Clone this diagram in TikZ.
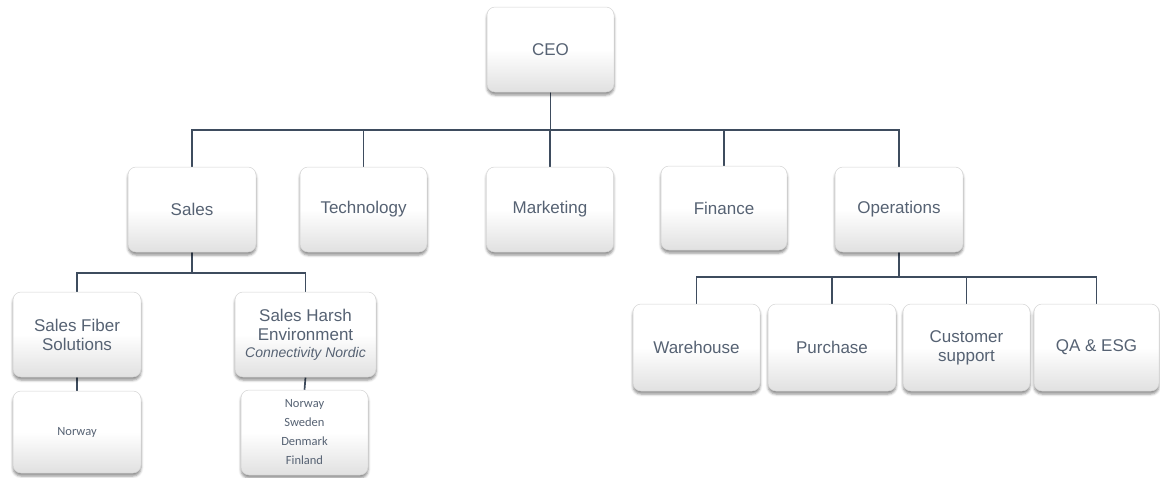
\documentclass[tikz,border=0pt]{standalone}
\usepackage{fontspec}
\setmainfont{Liberation Sans}
\newfontfamily\calfont{Carlito}
\usetikzlibrary{shadows.blur,backgrounds}
\definecolor{txt}{HTML}{566273}
\definecolor{ln}{HTML}{3E4C5E}
\definecolor{bd}{HTML}{D4D4D4}
\tikzset{
 box/.style={draw=bd, line width=0.5pt, rounded corners=8pt, top color=white, bottom color=black!12, middle color=white,
   text=txt, align=center, font=\fontsize{17}{19}\selectfont, inner sep=2pt,
   minimum width=127pt, minimum height=85pt,
   blur shadow={shadow xshift=0pt, shadow yshift=-3pt, shadow blur radius=2.5pt, shadow opacity=45}},
 small/.style={font=\calfont\fontsize{12.5}{19}\selectfont},
 conn/.style={draw=ln, line width=1.7pt}
}
\begin{document}
\begin{tikzpicture}[x=1pt,y=-1pt]
\useasboundingbox (0,0) rectangle (1160,477);
% top level
\node[box] (ceo) at (550.5,49.5) {CEO};
% second level
\node[box, minimum width=128pt] (sales) at (192,209.5) {Sales};
\node[box] (tech) at (363.5,209.5) {Technology};
\node[box] (mkt) at (550,209.5) {Marketing};
\node[box, minimum width=126pt, minimum height=84pt] (fin) at (724,208) {Finance};
\node[box, minimum width=128pt] (ops) at (899,209.5) {Operations};
% sales children
\node[box, minimum width=128pt] (sfs) at (77,334.5) {Sales Fiber\\Solutions};
\node[box, minimum width=141pt] (she) at (305.5,334.5) {Sales Harsh\\Environment\\[-2pt]{\fontsize{14}{16}\selectfont\itshape Connectivity Nordic}};
\node[box, small, minimum width=128pt, minimum height=82pt] (nor) at (77,432) {\raisebox{-5pt}{Norway}};
\node[box, small] (nordic) at (304.5,432.5) {Norway\\Sweden\\Denmark\\Finland};
% operations children
\node[box, minimum height=87pt] (wh) at (696.5,347.5) {Warehouse};
\node[box, minimum width=128pt, minimum height=87pt] (pur) at (832,347.5) {Purchase};
\node[box, minimum height=87pt] (cs) at (966.5,347.5) {Customer\\support};
\node[box, minimum width=125pt, minimum height=87pt] (qa) at (1096.5,347.5) {QA \& ESG};
% connectors
\begin{scope}[on background layer]
\draw[conn] (ceo.south) -- ++(0,38) coordinate (bus1);
\draw[conn] (sales.north) |- (bus1);
\draw[conn] (tech.north) |- (bus1);
\draw[conn] (mkt.north) |- (bus1);
\draw[conn] (fin.north) |- (bus1);
\draw[conn] (ops.north) |- (bus1);
\draw[conn] (sales.south) -- ++(0,21) coordinate (bus2);
\draw[conn] (sfs.north) |- (bus2);
\draw[conn] (she.north) |- (bus2);
\draw[conn] (sfs.south) -- (nor.north);
\draw[conn] (she.south) -- (nordic.north);
\draw[conn] (ops.south) -- ++(0,25) coordinate (bus3);
\draw[conn] (wh.north) |- (bus3);
\draw[conn] (pur.north) |- (bus3);
\draw[conn] (cs.north) |- (bus3);
\draw[conn] (qa.north) |- (bus3);
\end{scope}
\end{tikzpicture}
\end{document}
